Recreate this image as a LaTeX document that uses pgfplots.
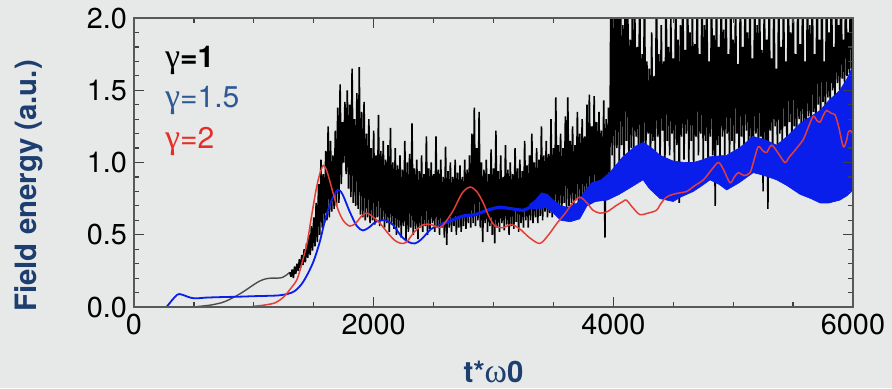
\documentclass[border=0pt]{standalone}
\usepackage{fontspec}
\setmainfont{TeX Gyre Heros}
\newfontfamily\gk{Liberation Serif}
\usepackage{pgfplots}
\pgfplotsset{compat=1.18}
\definecolor{bg}{RGB}{230,233,231}
\definecolor{lblue}{RGB}{30,62,112}
\definecolor{gblue}{RGB}{46,88,150}
\definecolor{gred}{RGB}{230,45,40}
\definecolor{cred}{RGB}{228,62,56}
\definecolor{cblue}{RGB}{10,30,235}
\begin{document}
\begin{tikzpicture}
\path[use as bounding box, fill=bg] (-67pt,-40.5pt) rectangle (379pt,153.5pt);
\begin{axis}[at={(0,0)}, anchor=south west, scale only axis, width=359.5pt, height=144.5pt,
xmin=0,xmax=6000,ymin=0,ymax=2,
xtick={0,2000,4000,6000}, ytick={0,0.5,1,1.5,2},
minor x tick num=3, minor y tick num=4,
tick align=inside, major tick length=5pt, minor tick length=2.5pt,
axis on top,
axis line style={black!65,line width=0.8pt},
every tick/.style={black!75,line width=0.6pt},
ticklabel style={font=\fontsize{14.4}{16}\selectfont},
/pgf/number format/assume math mode=true,
x tick label style={/pgf/number format/1000 sep={}},
y tick label style={/pgf/number format/fixed,/pgf/number format/fixed zerofill,/pgf/number format/precision=1},
xlabel={t*{\gk\mdseries\fontsize{17}{17}\selectfont ω}0}, ylabel={Field energy (a.u.)},
label style={font=\fontsize{14.7}{17}\selectfont\bfseries, text=lblue},
xlabel style={at={(axis description cs:0.5,-0.225)},anchor=center},
ylabel style={at={(axis description cs:-0.147,0.419)},anchor=center},
]
% gamma = 1, smooth start
\addplot[black!70, line width=0.7pt, smooth] coordinates {(0,0)(450,0)(550,0.005)(650,0.015)(750,0.035)(850,0.075)(920,0.11)(1000,0.155)(1050,0.18)(1100,0.195)(1150,0.2)(1200,0.2)(1240,0.205)(1270,0.22)(1300,0.24)};
% gamma = 1, noisy part
\addplot[black, line width=0.8pt, line join=bevel] coordinates {
(1300,.24)(1310,.21)(1320,.26)(1330,.20)(1340,.28)(1350,.23)(1360,.30)(1370,.25)(1380,.33)(1390,.27)
(1400,.36)(1410,.29)(1420,.40)(1430,.31)(1440,.44)(1450,.34)(1460,.50)(1470,.36)(1480,.56)(1490,.39)
(1500,.62)(1510,.42)(1520,.72)(1530,.45)(1540,.85)(1550,.50)(1560,1.02)(1570,.55)(1580,.92)(1590,.58)
(1600,1.08)(1610,.60)(1620,1.25)(1630,.62)(1640,1.15)(1650,.66)(1660,1.05)(1670,.68)(1680,1.22)(1690,.70)
(1700,1.38)(1710,.72)(1720,1.54)(1730,.85)(1740,1.28)(1750,1.00)(1760,1.42)(1770,.92)(1780,1.50)(1790,.82)
(1800,1.40)(1810,.76)(1820,1.65)(1830,.72)(1840,1.30)(1850,.70)(1860,1.48)(1870,.68)(1880,1.66)(1890,.64)
(1900,1.35)(1910,.62)(1920,1.42)(1930,.60)(1940,1.20)(1950,.62)(1960,1.30)(1970,.58)(1980,1.10)(1990,.60)
(2000,1.22)(2010,.57)(2020,1.05)(2030,.62)(2040,1.33)(2050,.56)(2060,1.08)(2070,.60)(2080,1.15)(2090,.55)
(2100,1.02)(2110,.58)(2120,1.12)(2130,.52)(2140,1.24)(2150,.57)(2160,1.00)(2170,.54)(2180,1.10)(2190,.50)
(2200,.98)(2210,.55)(2220,1.05)(2230,.48)(2240,.95)(2250,.56)(2260,1.15)(2270,.46)(2280,1.00)(2290,.52)
(2300,1.06)(2310,.55)(2320,1.27)(2330,.50)(2340,.96)(2350,.54)(2360,1.02)(2370,.47)(2380,.94)(2390,.55)
(2400,1.05)(2410,.52)(2420,.92)(2430,.56)(2440,1.18)(2450,.50)(2460,.96)(2470,.54)(2480,1.00)(2490,.58)
(2500,.92)(2510,.52)(2520,1.18)(2530,.56)(2540,.95)(2550,.50)(2560,1.02)(2570,.55)(2580,.90)(2590,.48)
(2600,1.11)(2610,.43)(2620,.94)(2630,.55)(2640,1.00)(2650,.52)(2660,.90)(2670,.56)(2680,1.02)(2690,.50)
(2700,.93)(2710,.55)(2720,.98)(2730,.52)(2740,.90)(2750,.56)(2760,1.02)(2770,.54)(2780,.95)(2790,.58)
(2800,1.05)(2810,.55)(2820,1.20)(2830,.58)(2840,1.38)(2850,.56)(2860,1.10)(2870,.60)(2880,1.35)(2890,.55)
(2900,1.00)(2910,.45)(2920,.95)(2930,.58)(2940,1.02)(2950,.52)(2960,.92)(2970,.56)(2980,1.09)(2990,.50)
(3000,.96)(3010,.44)(3020,1.22)(3030,.55)(3040,.94)(3050,.52)(3060,1.05)(3070,.58)(3080,.90)(3090,.53)
(3100,1.12)(3110,.57)(3120,.95)(3130,.50)(3140,1.00)(3150,.56)(3160,.92)(3170,.54)(3180,1.10)(3190,.59)
(3200,.96)(3210,.52)(3220,1.02)(3230,.58)(3240,.94)(3250,.55)(3260,1.15)(3270,.60)(3280,.98)(3290,.55)
(3300,1.05)(3310,.60)(3320,1.20)(3330,.58)(3340,1.00)(3350,.62)(3360,1.10)(3370,.58)(3380,1.02)(3390,.63)
(3400,1.25)(3410,.60)(3420,1.05)(3430,.66)(3440,1.15)(3450,.62)(3460,1.06)(3470,.65)(3480,1.30)(3490,.62)
(3500,1.10)(3510,.68)(3520,1.45)(3530,.64)(3540,1.12)(3550,.70)(3560,1.20)(3570,.66)(3580,1.10)(3590,.72)
(3600,1.32)(3610,.68)(3620,1.45)(3630,.70)(3640,1.15)(3650,.72)(3660,1.25)(3670,.68)(3680,1.12)(3690,.74)
(3700,1.35)(3710,.70)(3720,1.20)(3730,.75)(3740,1.30)(3750,.72)(3760,1.18)(3770,.76)(3780,1.40)(3790,.73)
(3800,1.47)(3810,.75)(3820,1.25)(3830,.78)(3840,1.46)(3850,.74)(3860,1.28)(3870,.76)(3880,1.35)(3890,.78)
(3900,1.22)(3910,.74)(3920,1.43)(3930,.48)(3940,1.30)(3950,.78)(3960,1.38)(3970,.85)
(3980,2.3)(3990,1.05)(4000,2.3)(4010,0.92)(4020,2.3)(4030,1.10)(4040,2.1)(4050,0.95)(4060,2.3)(4070,1.12)
(4080,1.95)(4090,1.00)(4100,2.3)(4110,1.15)(4120,2.2)(4130,0.98)(4140,1.85)(4150,1.10)(4160,2.3)(4170,1.02)
(4180,2.0)(4190,1.18)(4200,1.80)(4210,1.05)(4220,2.3)(4230,0.90)(4240,1.75)(4250,1.12)(4260,2.3)(4270,1.00)
(4280,1.70)(4290,1.20)(4300,1.65)(4310,0.96)(4320,1.90)(4330,1.15)(4340,1.60)(4350,1.05)(4360,2.3)(4370,1.18)
(4380,1.75)(4390,1.00)(4400,1.95)(4410,1.22)(4420,1.70)(4430,0.95)(4440,2.3)(4450,1.15)(4460,1.80)(4470,1.05)
(4480,2.0)(4490,1.20)(4500,1.72)(4510,0.98)(4520,2.3)(4530,1.12)(4540,1.85)(4550,0.72)(4560,1.95)(4570,1.18)
(4580,2.3)(4590,1.02)(4600,1.78)(4610,1.20)(4620,2.3)(4630,1.00)(4640,1.90)(4650,1.15)(4660,2.1)(4670,0.95)
(4680,1.82)(4690,1.18)(4700,2.3)(4710,1.05)(4720,1.75)(4730,1.20)(4740,2.3)(4750,1.00)(4760,1.95)(4770,1.15)
(4780,2.3)(4790,0.90)(4800,1.70)(4810,1.18)(4820,2.3)(4830,1.05)(4840,1.88)(4850,0.70)(4860,2.3)(4870,1.12)
(4880,1.80)(4890,1.00)(4900,2.3)(4910,1.18)(4920,1.92)(4930,1.05)(4940,2.3)(4950,1.20)(4960,1.75)(4970,0.98)
(4980,2.3)(4990,1.15)(5000,1.85)(5010,1.05)(5020,2.2)(5030,1.20)(5040,1.68)(5050,1.00)(5060,2.3)(5070,1.18)
(5080,1.80)(5090,1.08)(5100,2.3)(5110,1.22)(5120,1.90)(5130,0.95)(5140,2.3)(5150,1.15)(5160,1.72)(5170,1.05)
(5180,2.3)(5190,1.20)(5200,1.95)(5210,1.02)(5220,2.3)(5230,1.18)(5240,1.78)(5250,0.80)(5260,2.3)(5270,1.12)
(5280,1.85)(5290,0.68)(5300,2.3)(5310,1.22)(5320,1.72)(5330,1.05)(5340,2.3)(5350,1.25)(5360,1.65)(5370,1.10)
(5380,2.3)(5390,1.20)(5400,1.80)(5410,1.08)(5420,2.3)(5430,1.25)(5440,1.70)(5450,1.05)(5460,2.3)(5470,1.28)
(5480,1.90)(5490,1.12)(5500,2.3)(5510,1.25)(5520,1.75)(5530,1.10)(5540,2.3)(5550,1.30)(5560,1.82)(5570,1.15)
(5580,2.3)(5590,1.28)(5600,1.70)(5610,1.18)(5620,2.3)(5630,1.32)(5640,1.95)(5650,1.20)(5660,2.3)(5670,1.35)
(5680,1.75)(5690,1.25)(5700,2.3)(5710,1.40)(5720,1.85)(5730,1.30)(5740,2.3)(5750,1.42)(5760,1.70)(5770,1.35)
(5780,2.3)(5790,1.45)(5800,1.90)(5810,1.38)(5820,2.3)(5830,1.50)(5840,1.80)(5850,1.45)(5860,2.3)(5870,1.55)
(5880,1.95)(5890,1.50)(5900,2.3)(5910,1.58)(5920,1.85)(5930,1.55)(5940,2.3)(5950,1.60)(5960,1.90)(5970,1.62)
(5980,2.3)(5990,1.65)(6000,1.95)};
% gamma = 1.5, smooth part
\addplot[cblue, line width=0.9pt, smooth] coordinates {(0,0)(250,0)(280,0.01)(320,0.05)(360,0.085)(380,0.09)(420,0.08)(470,0.065)(520,0.06)(600,0.065)(700,0.068)(800,0.07)(900,0.072)(1000,0.075)(1100,0.077)(1200,0.08)(1280,0.09)(1340,0.11)(1400,0.16)(1450,0.23)(1500,0.32)(1550,0.45)(1600,0.62)(1650,0.74)(1700,0.81)(1740,0.78)(1800,0.66)(1860,0.56)(1910,0.53)(1960,0.55)(2020,0.59)(2100,0.60)(2160,0.57)(2230,0.49)(2290,0.45)(2345,0.44)(2400,0.47)(2480,0.54)(2560,0.57)};
\addplot[cblue, line width=1.6pt, smooth] coordinates {(2560,0.57)(2650,0.60)(2750,0.63)(2850,0.64)(2950,0.67)(3050,0.69)(3150,0.68)(3250,0.67)(3300,0.69)};
% gamma = 1.5, fast-oscillating band
\addplot[cblue, fill=cblue, line width=0.3pt] coordinates {
(3300,0.71)(3350,0.74)(3400,0.79)(3450,0.78)(3500,0.74)(3560,0.70)(3620,0.69)(3700,0.72)(3760,0.80)(3820,0.86)(3900,0.88)(3980,0.94)(4080,1.04)(4180,1.11)(4250,1.14)(4320,1.10)(4390,1.05)(4500,1.01)(4600,1.00)(4668,1.00)(4750,1.02)(4807,1.04)(4946,1.05)(5050,1.10)(5168,1.18)(5260,1.16)(5363,1.12)(5450,1.18)(5558,1.27)(5650,1.32)(5725,1.36)(5800,1.43)(5891,1.50)(5950,1.58)(6000,1.67)
(6000,0.81)(5950,0.77)(5891,0.74)(5800,0.72)(5725,0.72)(5650,0.75)(5558,0.78)(5450,0.84)(5363,0.88)(5260,0.91)(5168,0.93)(5050,0.86)(4946,0.81)(4880,0.85)(4807,0.88)(4740,0.84)(4668,0.80)(4560,0.76)(4500,0.73)(4390,0.75)(4300,0.82)(4248,0.88)(4150,0.83)(4050,0.78)(3950,0.74)(3850,0.73)(3780,0.70)(3720,0.61)(3640,0.59)(3560,0.60)(3500,0.65)(3440,0.69)(3380,0.68)(3300,0.68)} -- cycle;
% gamma = 2
\addplot[cred, line width=0.75pt, smooth, tension=0.5] coordinates {(0,0)(900,0)(1000,0.005)(1100,0.015)(1180,0.03)(1250,0.07)(1300,0.12)(1360,0.19)(1400,0.30)(1444,0.44)(1480,0.62)(1519,0.81)(1550,0.92)(1580,0.98)(1610,0.94)(1661,0.79)(1700,0.68)(1745,0.60)(1800,0.56)(1850,0.58)(1900,0.63)(1942,0.65)(2000,0.62)(2053,0.58)(2120,0.51)(2178,0.46)(2230,0.44)(2275,0.45)(2340,0.52)(2414,0.57)(2480,0.57)(2553,0.55)(2610,0.60)(2665,0.67)(2740,0.79)(2804,0.83)(2860,0.80)(2915,0.72)(2960,0.63)(3013,0.56)(3080,0.55)(3150,0.57)(3220,0.54)(3300,0.48)(3387,0.44)(3460,0.50)(3530,0.58)(3600,0.65)(3660,0.72)(3721,0.76)(3780,0.72)(3830,0.67)(3888,0.65)(3950,0.66)(4020,0.70)(4080,0.73)(4109,0.74)(4160,0.69)(4221,0.64)(4290,0.65)(4360,0.67)(4400,0.72)(4443,0.76)(4500,0.78)(4554,0.79)(4613,0.80)(4680,0.84)(4752,0.88)(4820,0.95)(4877,1.00)(4920,0.95)(4974,0.86)(5010,0.90)(5043,0.93)(5090,0.91)(5141,0.93)(5175,1.02)(5210,1.11)(5250,1.08)(5280,1.07)(5321,1.12)(5380,1.06)(5432,1.00)(5470,1.04)(5502,1.07)(5540,1.11)(5586,1.16)(5630,1.25)(5669,1.32)(5700,1.29)(5725,1.28)(5755,1.33)(5780,1.36)(5820,1.34)(5850,1.33)(5880,1.25)(5919,1.11)(5945,1.15)(5961,1.21)(5980,1.22)(6000,1.20)};
\end{axis}
\node[anchor=base west, font=\fontsize{15}{18}\selectfont] at (12pt,120pt) {{\gk\fontsize{17}{18}\selectfont γ}\textbf{=1}};
\node[anchor=base west, font=\fontsize{15}{18}\selectfont, text=gblue] at (12pt,100pt) {{\gk\fontsize{17}{18}\selectfont γ}=1.5};
\node[anchor=base west, font=\fontsize{15}{18}\selectfont, text=gred] at (12pt,79.5pt) {{\gk\fontsize{17}{18}\selectfont γ}=2};
\end{tikzpicture}
\end{document}
